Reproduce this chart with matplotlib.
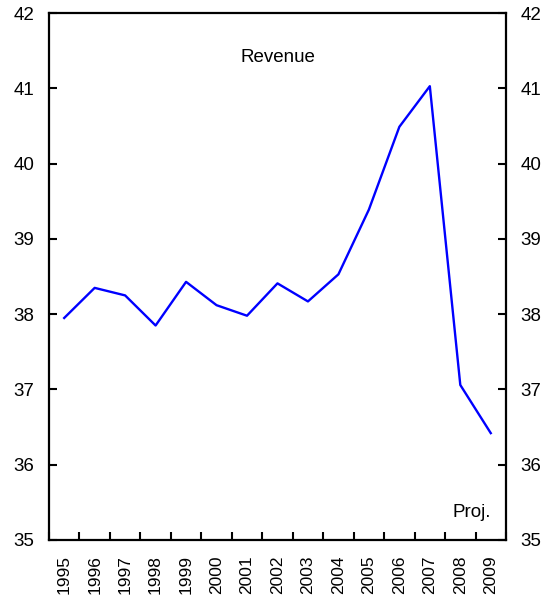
import matplotlib
matplotlib.use("Agg")
import matplotlib.pyplot as plt
import numpy as np

years = ["1995", "1996", "1997", "1998", "1999", "2000", "2001", "2002",
         "2003", "2004", "2005", "2006", "2007", "2008", "2009"]
revenue = [37.95, 38.35, 38.25, 37.85, 38.43, 38.12, 37.98, 38.41,
           38.17, 38.53, 39.39, 40.49, 41.03, 37.06, 36.42]

plt.rcParams['font.family'] = ['Liberation Sans', 'DejaVu Sans']

fig = plt.figure(figsize=(5.5, 5.99), dpi=100)
ax = fig.add_axes([0.089, 0.0985, 0.831, 0.8795])

x = np.arange(len(years))
ax.plot(x, revenue, color='#0000ff', linewidth=1.7)

ax.set_xlim(-0.5, len(years) - 0.5)
ax.set_ylim(35, 42)

# major ticks at category boundaries, labels on minor ticks at centres
ax.set_xticks(np.arange(-0.5, len(years), 1.0))
ax.set_xticklabels([])
ax.set_xticks(x, minor=True)
ax.set_xticklabels(years, minor=True, rotation=90, fontsize=12.5)
ax.tick_params(axis='x', which='major', direction='in', length=6, width=1.5)
ax.tick_params(axis='x', which='minor', length=0, pad=11)

ax.set_yticks(np.arange(35, 43, 1))
ax.tick_params(axis='y', which='major', direction='in', length=6, width=1.5,
               labelsize=13.5, pad=10.5, left=True, right=True,
               labelleft=True, labelright=True)

for s in ax.spines.values():
    s.set_linewidth(1.6)

ax.text(0.5, 0.915, "Revenue", transform=ax.transAxes, ha='center',
        va='center', fontsize=13.5)
ax.text(0.925, 0.053, "Proj.", transform=ax.transAxes, ha='center',
        va='center', fontsize=13.5)

fig.savefig("out.png", dpi=100)
